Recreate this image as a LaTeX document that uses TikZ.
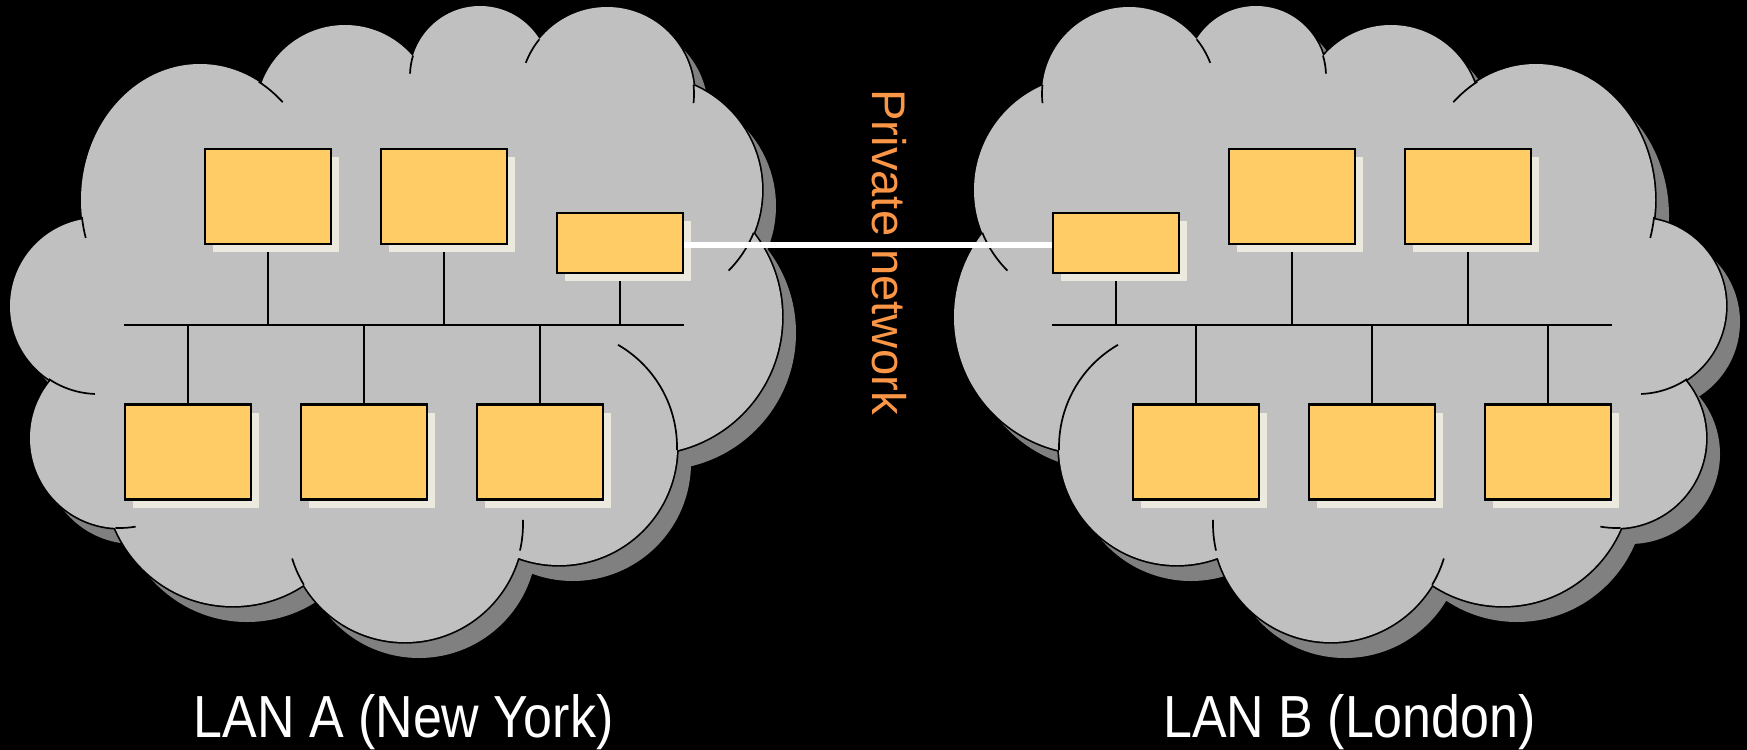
\documentclass[tikz,border=0pt]{standalone}
\usepackage{fontspec}
\setmainfont{Liberation Sans}
\usepackage{graphicx}
\usetikzlibrary{shadows}

\definecolor{cloudgray}{RGB}{192,192,192}
\definecolor{cloudshade}{RGB}{128,128,128}
\definecolor{hostfill}{RGB}{255,204,102}
\definecolor{hostshade}{RGB}{236,234,222}
\definecolor{linkorange}{RGB}{250,150,70}

\newcommand\lanlobes{%
  (98,306) circle[radius=88]
  (120,438) circle[radius=90]
  (233,478) circle[radius=128]
  (405,524) circle[radius=118]
  (559,447) circle[radius=118]
  (645,317) circle[radius=137]
  (648,190) circle[radius=114]
  (607,94) circle[radius=87]
  (480,76) circle[radius=70]
  (345,114) circle[radius=89]
  (200,200) ellipse[x radius=119, y radius=136]}
\newcommand\lancore{%
  (98,306) -- (120,438) -- (233,478) -- (405,524) -- (559,447) -- (645,317)
  -- (648,190) -- (607,94) -- (480,76) -- (345,114) -- (200,200) -- cycle}
\newcommand\lancloud[1]{%
  \fill[cloudshade, shift={(#1,16)}] \lanlobes;
  \fill[cloudshade, shift={(#1,16)}] \lancore;
  \draw[black, line width=1.7pt] \lanlobes;
  \fill[cloudgray] \lanlobes;
  \fill[cloudgray] \lancore;
  \draw[cloudline]
    (200,200) ++(172.8:119 and 136) arc[start angle=172.8, end angle=163.8, x radius=119, y radius=136]
    (200,200) ++(-60.4:119 and 136) arc[start angle=-60.4, end angle=-46, x radius=119, y radius=136]
    (98,306) ++(124:88) arc[start angle=124, end angle=92, radius=88]
    (120,438) ++(93:90) arc[start angle=93, end angle=80, radius=90]
    (405,524) ++(149:118) arc[start angle=149, end angle=163, radius=118]
    (405,524) ++(13:118) arc[start angle=13, end angle=-2, radius=118]
    (559,447) ++(1.5:118) arc[start angle=1.5, end angle=-60, radius=118]
    (648,190) ++(22:114) arc[start angle=22, end angle=45, radius=114]
    (607,94) ++(-6:87) arc[start angle=-6, end angle=6, radius=87]
    (607,94) ++(219:87) arc[start angle=219, end angle=201, radius=87]
    (480,76) ++(197:70) arc[start angle=197, end angle=182, radius=70];}

\begin{document}
\begin{tikzpicture}[
        x=0.5pt, y=-0.5pt,
        host/.style={rectangle, draw=black, line width=1.3pt,
            fill=hostfill, inner sep=0pt,
            minimum width=63pt, minimum height=47.5pt,
            drop shadow={shadow xshift=4pt, shadow yshift=-4pt,
                fill=hostshade, opacity=1}},
        gateway/.style={host, minimum height=30pt},
        wire/.style={line width=1.2pt},
        link/.style={draw=white, line width=3pt},
        cloudline/.style={black, line width=0.85pt},
        lanlabel/.style={text=white, inner sep=0pt, anchor=base,
            font=\fontsize{29.7}{34}\selectfont}
      ]
      \useasboundingbox (0,0) rectangle (1747,750);
      \fill[black] (0,0) rectangle (1747,750);
      \lancloud{14}
      \begin{scope}[shift={(1736,0)}, xscale=-1]
        \lancloud{-14}
      \end{scope}
      \node[host] (a1) at (268,196.5) {};
      \node[host] (a2) at (444,196.5) {};
      \node[gateway] (ga) at (620,243) {};
      \node[host] (a4) at (188,452) {};
      \node[host] (a5) at (364,452) {};
      \node[host] (a6) at (540,452) {};
      \node[gateway] (gb) at (1116,243) {};
      \node[host] (b1) at (1292,196.5) {};
      \node[host] (b2) at (1468,196.5) {};
      \node[host] (b4) at (1196,452) {};
      \node[host] (b5) at (1372,452) {};
      \node[host] (b6) at (1548,452) {};
      \coordinate (busaw) at (124,325);
      \coordinate (busae) at (684,325);
      \coordinate (busbw) at (1052,325);
      \coordinate (busbe) at (1612,325);
      \draw[wire] (busaw) -- (busae);
      \draw[wire] (busbw) -- (busbe);
      \foreach \n in {a1,a2,ga}
        \draw[wire] ([yshift=-3.5pt]\n.south) -- (\n.south |- busaw);
      \foreach \n in {a4,a5,a6}
        \draw[wire] (\n.north) -- (\n.north |- busaw);
      \foreach \n in {gb,b1,b2}
        \draw[wire] ([yshift=-3.5pt]\n.south) -- (\n.south |- busbw);
      \foreach \n in {b4,b5,b6}
        \draw[wire] (\n.north) -- (\n.north |- busbw);
      \draw[link] ([yshift=-1pt]ga.east) -- ([yshift=-1pt]gb.west);
      \node[text=linkorange, rotate=-90, anchor=base west, inner sep=0pt,
        font=\fontsize{23.6}{28}\selectfont] (private) at (872,89)
      {Private network};
      \node[lanlabel] (laba) at (403.5,737)
      {\scalebox{0.875}[1]{LAN A (New York)}};
      \node[lanlabel] (labb) at (1349.5,737)
      {\scalebox{0.875}[1]{LAN B (London)}};
    \end{tikzpicture}
\end{document}
